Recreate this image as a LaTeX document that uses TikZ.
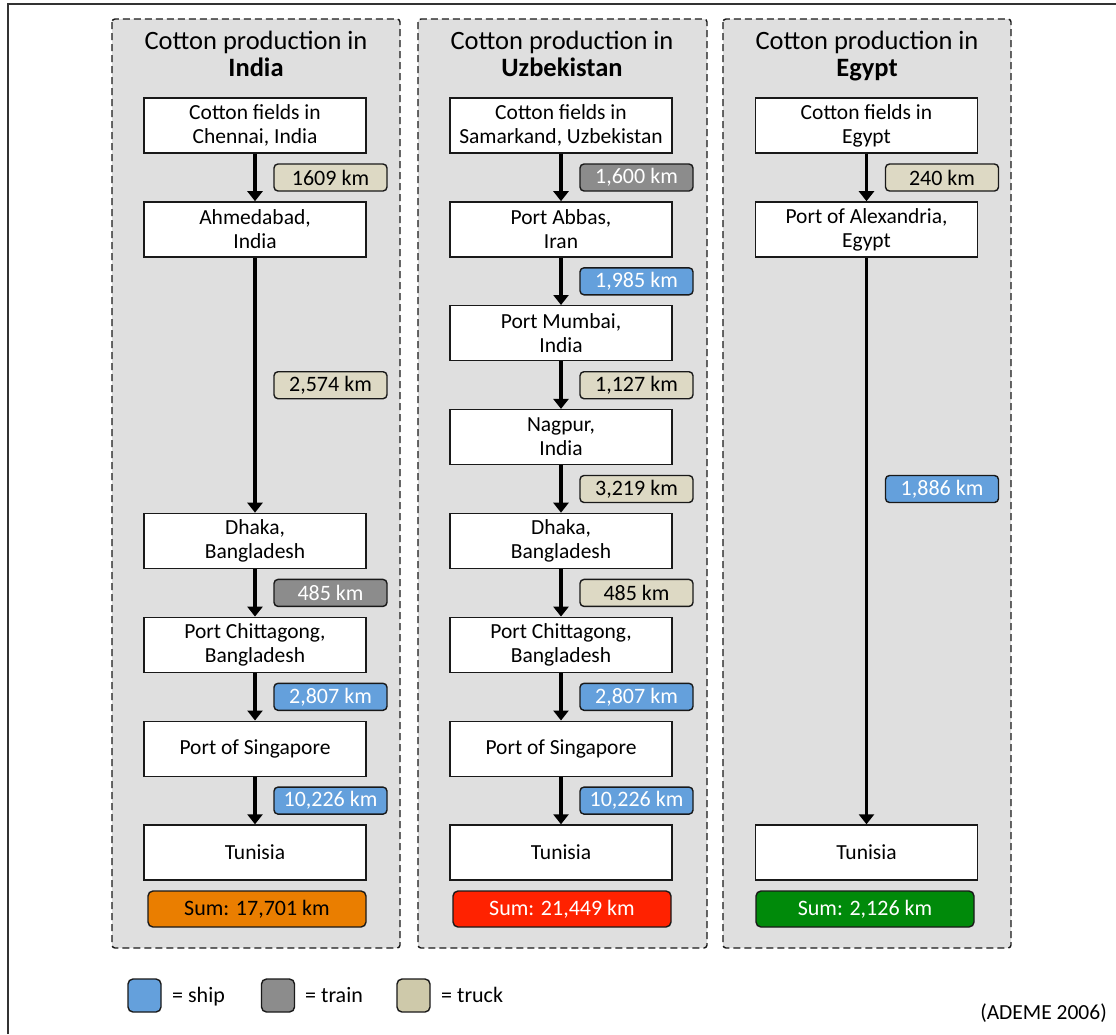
\documentclass[tikz,border=0pt]{standalone}
\usepackage{fontspec}
\setmainfont{Carlito}
\usetikzlibrary{arrows.meta}

\definecolor{panelbg}{RGB}{223,223,223}
\definecolor{shipc}{RGB}{100,160,220}
\definecolor{trainc}{RGB}{140,140,140}
\definecolor{truckc}{RGB}{221,217,196}
\definecolor{truckleg}{RGB}{206,201,170}
\definecolor{sumorange}{RGB}{234,126,0}
\definecolor{sumred}{RGB}{255,34,0}
\definecolor{sumgreen}{RGB}{0,138,10}
\definecolor{framec}{RGB}{51,51,51}
\definecolor{edgec}{RGB}{25,25,25}

\begin{document}
\begin{tikzpicture}[x=1pt,y=-1pt,
  panel/.style={draw=edgec, line width=1.4pt, dash pattern=on 7pt off 4pt,
    fill=panelbg, rounded corners=3pt},
  titletxt/.style={anchor=base, inner sep=0pt, font=\fontsize{26.5}{28}\selectfont},
  place/.style={draw=edgec, fill=white, line width=1.4pt, minimum width=222pt,
    minimum height=55pt, align=center, inner sep=0pt,
    font=\fontsize{21.5}{24}\selectfont},
  dist/.style={draw=edgec, line width=1.4pt, rounded corners=4pt,
    minimum width=113pt, minimum height=27pt, inner sep=0pt,
    font=\fontsize{22}{24}\selectfont},
  byship/.style={dist, fill=shipc, text=white},
  bytrain/.style={dist, fill=trainc, text=white},
  bytruck/.style={dist, fill=truckc, text=black},
  sumbox/.style={draw=edgec, line width=1.4pt, rounded corners=5pt,
    minimum width=218pt, minimum height=36pt, inner sep=0pt,
    font=\fontsize{22}{24}\selectfont},
  route/.style={-{Triangle[length=10pt,width=15pt]}, line width=3.2pt},
  legkey/.style={draw=edgec, line width=1.4pt, rounded corners=5pt,
    minimum width=33pt, minimum height=33pt, inner sep=0pt},
  legtxt/.style={anchor=base west, inner sep=0pt, font=\fontsize{22}{24}\selectfont}
]
\useasboundingbox (0,0) rectangle (1116,1034);

% outer frame (top and left edges)
\draw[framec, line width=2pt] (8,1034) -- (8,4) -- (1116,4);

% dashed panels
\draw[panel] (112,19) rectangle (400,948);
\draw[panel] (418,19) rectangle (707,948);
\draw[panel] (723,19) rectangle (1011,948);

% titles
\node[titletxt] (tI)  at (256,49) {Cotton production in};
\node[titletxt] (tIb) at (256,76) {\textbf{India}};
\node[titletxt] (tU)  at (562,49) {Cotton production in};
\node[titletxt] (tUb) at (562,76) {\textbf{Uzbekistan}};
\node[titletxt] (tE)  at (867,49) {Cotton production in};
\node[titletxt] (tEb) at (867,76) {\textbf{Egypt}};

% ---------- India ----------
\node[place] (i1) at (255,125.5) {Cotton fields in\\Chennai, India};
\node[place] (i2) at (255,229.4) {Ahmedabad,\\India};
\node[place] (i3) at (255,540.9) {Dhaka,\\Bangladesh};
\node[place] (i4) at (255,644.8) {Port Chittagong,\\Bangladesh};
\node[place] (i5) at (255,748.7) {Port of Singapore};
\node[place] (i6) at (255,852.5) {Tunisia};
\draw[route] (i1) -- (i2);
\draw[route] (i2) -- (i3);
\draw[route] (i3) -- (i4);
\draw[route] (i4) -- (i5);
\draw[route] (i5) -- (i6);
\node[bytruck] (di1) at (330.5,177.5) {1609 km};
\node[bytruck] (di2) at (330.5,385.2) {2,574 km};
\node[bytrain] (di3) at (330.5,592.9) {485 km};
\node[byship]  (di4) at (330.5,696.8) {2,807 km};
\node[byship]  (di5) at (330.5,800.6) {10,226 km};
\node[sumbox, fill=sumorange, text=black] (si) at (257,909) {Sum: 17,701 km};

% ---------- Uzbekistan ----------
\node[place] (u1) at (561,125.5) {Cotton fields in\\Samarkand, Uzbekistan};
\node[place] (u2) at (561,229.4) {Port Abbas,\\Iran};
\node[place] (u3) at (561,333.2) {Port Mumbai,\\India};
\node[place] (u4) at (561,437.1) {Nagpur,\\India};
\node[place] (u5) at (561,540.9) {Dhaka,\\Bangladesh};
\node[place] (u6) at (561,644.8) {Port Chittagong,\\Bangladesh};
\node[place] (u7) at (561,748.7) {Port of Singapore};
\node[place] (u8) at (561,852.5) {Tunisia};
\draw[route] (u1) -- (u2);
\draw[route] (u2) -- (u3);
\draw[route] (u3) -- (u4);
\draw[route] (u4) -- (u5);
\draw[route] (u5) -- (u6);
\draw[route] (u6) -- (u7);
\draw[route] (u7) -- (u8);
\node[bytrain] (du1) at (636.5,177.5) {1,600 km};
\node[byship]  (du2) at (636.5,281.3) {1,985 km};
\node[bytruck] (du3) at (636.5,385.2) {1,127 km};
\node[bytruck] (du4) at (636.5,489.0) {3,219 km};
\node[bytruck] (du5) at (636.5,592.9) {485 km};
\node[byship]  (du6) at (636.5,696.8) {2,807 km};
\node[byship]  (du7) at (636.5,800.6) {10,226 km};
\node[sumbox, fill=sumred, text=white] (su) at (562,909) {Sum: 21,449 km};

% ---------- Egypt ----------
\node[place] (e1) at (866.5,125.5) {Cotton fields in\\Egypt};
\node[place] (e2) at (866.5,229.4) {Port of Alexandria,\\Egypt};
\node[place] (e3) at (866.5,852.5) {Tunisia};
\draw[route] (e1) -- (e2);
\draw[route] (e2) -- (e3);
\node[bytruck] (de1) at (942,177.5) {240 km};
\node[byship]  (de2) at (942,489.0) {1,886 km};
\node[sumbox, fill=sumgreen, text=white] (se) at (865,909) {Sum: 2,126 km};

% ---------- legend ----------
\node[legkey, fill=shipc]    (kship)  at (144.5,995.5) {};
\node[legtxt] (tship)  at (172,1002) {= ship};
\node[legkey, fill=trainc]   (ktrain) at (278,995.5) {};
\node[legtxt] (ttrain) at (305,1002) {= train};
\node[legkey, fill=truckleg] (ktruck) at (413.5,995.5) {};
\node[legtxt] (ttruck) at (441,1002) {= truck};

% source
\node[anchor=base east, inner sep=0pt, font=\fontsize{21.5}{24}\selectfont]
  (src) at (1107,1019) {(ADEME 2006)};
\end{tikzpicture}
\end{document}
